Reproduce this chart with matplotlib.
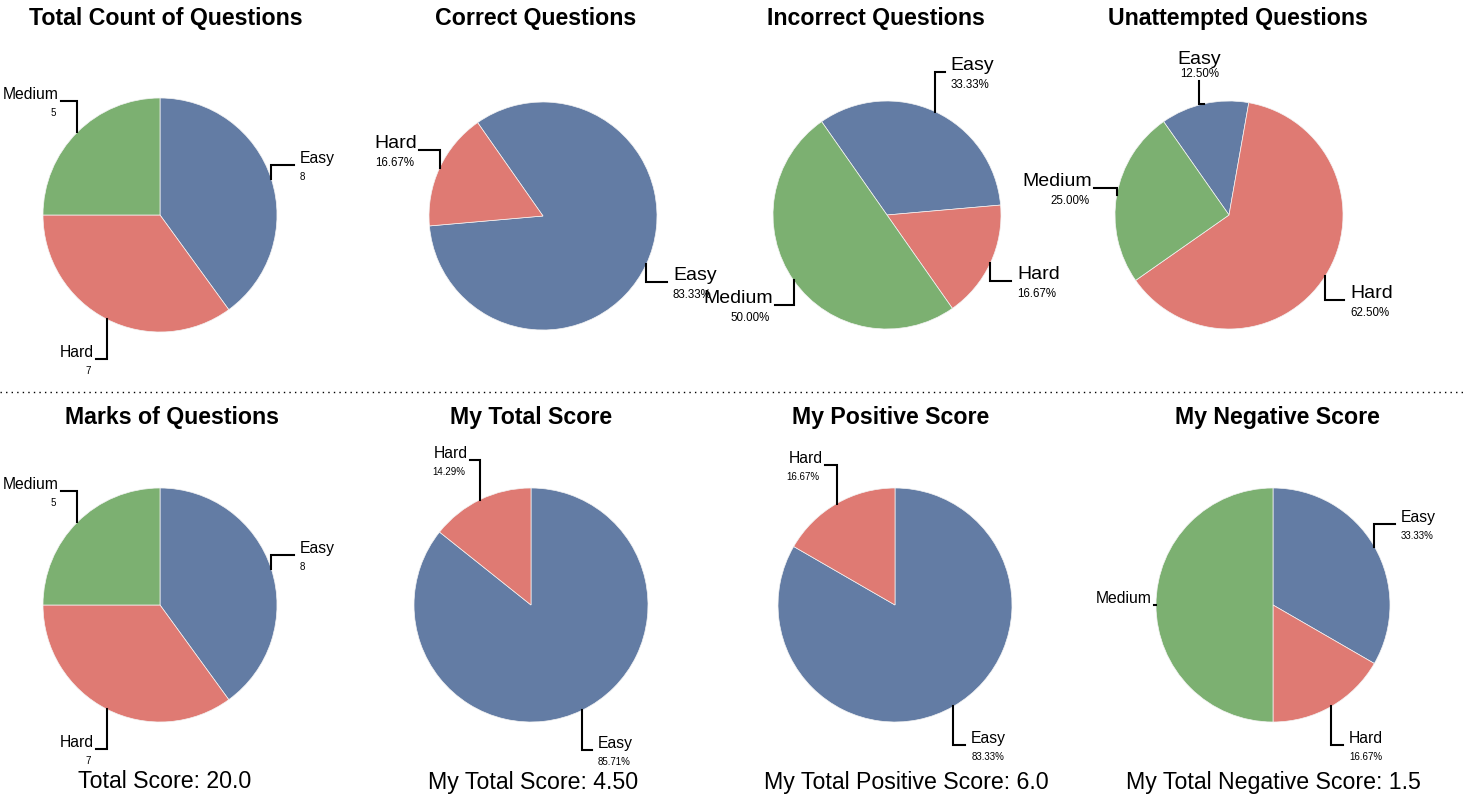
import numpy as np
import matplotlib
matplotlib.use('Agg')
import matplotlib.pyplot as plt
from matplotlib.lines import Line2D

plt.rcParams['font.family'] = ['Liberation Sans', 'DejaVu Sans']

# canvas in pixels
W, H = 1464, 799
DPI = 100

# data
categories = ['Easy', 'Hard', 'Medium']
colors = ['#637ca4', '#df7a73', '#7cb071']

total_count = [8, 7, 5]
correct_count = [5, 1, 0]
incorrect_count = [2, 1, 3]
unattempted_count = [1, 5, 2]

marks = [8, 7, 5]
my_total_score = [4.5, 0.75, -0.75]
my_positive_score = [5, 1, 0]
my_negative_score = [0.5, 0.25, 0.75]

# (title, values, pie centre x/y px, radius px, start offset deg, big labels, show counts)
charts = [
    ('Total Count of Questions', total_count, 160, 215, 117, 0, False, True),
    ('Correct Questions', correct_count, 543, 216, 114, -35, True, False),
    ('Incorrect Questions', incorrect_count, 887, 215, 114, -35, True, False),
    ('Unattempted Questions', unattempted_count, 1229, 215, 114, -35, True, False),
    ('Marks of Questions', marks, 160, 605, 117, 0, False, True),
    ('My Total Score', my_total_score, 531, 605, 117, 0, False, False),
    ('My Positive Score', my_positive_score, 895, 605, 117, 0, False, False),
    ('My Negative Score', my_negative_score, 1273, 605, 117, 0, False, False),
]

# title centres (px)
title_pos = [(166, 18), (536, 18), (876, 18), (1238, 18),
             (172, 417), (531, 417), (891, 417), (1277, 417)]

# footer texts under the bottom row
footers = [
    ('Total Score: {:.1f}'.format(sum(marks)), 165),
    ('My Total Score: {:.2f}'.format(sum(my_total_score)), 533),
    ('My Total Positive Score: {:.1f}'.format(sum(my_positive_score)), 906),
    ('My Total Negative Score: {:.1f}'.format(sum(my_negative_score)), 1273),
]

# one label in the reference got squashed against the pie
label_override = {('My Negative Score', 'Medium'): dict(a=1.02, b=1.0, value=False)}

PX = 72.0 / DPI  # pixels -> points


# draw one pie with bracket leader lines
def drawPie(ax, title, values, start, big, asCount):
    keep = [i for i, v in enumerate(values) if v > 0]
    vals = [values[i] for i in keep]
    names = [categories[i] for i in keep]
    cols = [colors[i] for i in keep]
    total = sum(vals)

    wedges, _ = ax.pie(vals, colors=cols, startangle=90 - start, counterclock=False,
                       radius=1, wedgeprops=dict(edgecolor='#f4f4f4', linewidth=0.5))

    nameSize = 14 if big else 11.3
    valSize = 8.3 if big else 7

    for w, name, v in zip(wedges, names, vals):
        ang = np.deg2rad((w.theta1 + w.theta2) / 2)
        ex, ey = np.cos(ang), np.sin(ang)
        opts = label_override.get((title, name), {})
        valText = str(int(v)) if asCount else '{:.2f}%'.format(100 * v / total)

        if abs(ex) < 0.3 and ey > 0:
            # label straight above the slice
            lx, ly = 1.2 * ex, 1.2 * ey
            ax.plot([ex, lx, lx], [ey, ey, ly], color='black', lw=1.5, clip_on=False,
                    solid_joinstyle='miter')
            ax.annotate(valText, (lx, ly), xytext=(0, 1 * PX), textcoords='offset points',
                        ha='center', va='bottom', fontsize=valSize)
            ax.annotate(name, (lx, ly), xytext=(0, 13 * PX), textcoords='offset points',
                        ha='center', va='bottom', fontsize=nameSize)
            continue

        # anchor on a slightly stretched ellipse round the pie
        lx, ly = opts.get('a', 1.2) * ex, opts.get('b', 1.38) * ey
        ax.plot([ex, ex, lx], [ey, ly, ly], color='black', lw=1.5, clip_on=False,
                solid_joinstyle='miter')
        if lx > 0:
            ha, dx = 'left', 6
        else:
            ha, dx = 'right', -2
        ax.annotate(name, (lx, ly), xytext=(dx * PX, 2 * PX), textcoords='offset points',
                    ha=ha, va='baseline', fontsize=nameSize)
        if opts.get('value', True):
            ax.annotate(valText, (lx, ly), xytext=((dx - 3 if lx < 0 else dx) * PX, -7 * PX),
                        textcoords='offset points', ha=ha, va='top', fontsize=valSize)


fig = plt.figure(figsize=(W / DPI, H / DPI), dpi=DPI)

k = 2.0
for (title, values, cx, cy, r, start, big, asCount), (tx, ty) in zip(charts, title_pos):
    ax = fig.add_axes([(cx - k * r) / W, 1 - (cy + k * r) / H, 2 * k * r / W, 2 * k * r / H])
    drawPie(ax, title, values, start, big, asCount)
    ax.set_xlim(-k, k)
    ax.set_ylim(-k, k)
    ax.axis('off')
    fig.text(tx / W, 1 - ty / H, title, ha='center', va='center',
             fontsize=16.7, fontweight='bold')

for text, fx in footers:
    fig.text(fx / W, 1 - 782 / H, text, ha='center', va='center', fontsize=16.7)

# dotted separator between rows
fig.add_artist(Line2D([0, 1], [1 - 392 / H] * 2, transform=fig.transFigure,
                      color='black', lw=1, linestyle=(0, (1, 3))))

fig.savefig('out.png', dpi=DPI)
